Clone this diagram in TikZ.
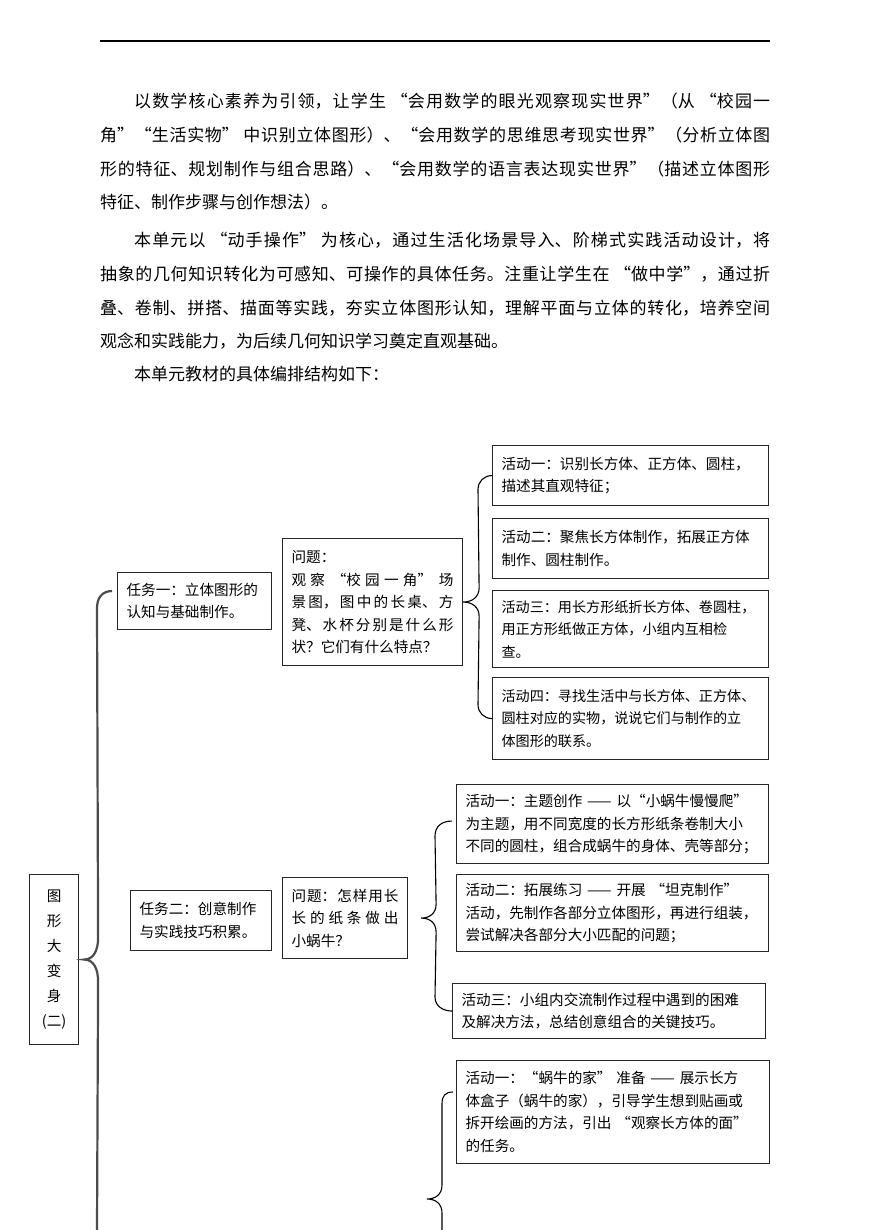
\documentclass[tikz,border=0pt]{standalone}
\usepackage{fontspec}
\setmainfont{Noto Sans CJK SC}
\usetikzlibrary{calc}
\XeTeXlinebreaklocale "zh"
\XeTeXlinebreakskip=0pt plus 2pt
\tikzset{
  box/.style 2 args={draw=black!85,line width=1.1pt,anchor=north west,
    inner xsep=9pt,inner ysep=0pt,align=left,
    text width=#1pt,minimum width=#1pt+18pt,minimum height=#2pt,
    font=\fontsize{14.6pt}{22.5pt}\selectfont},
  small/.style={font=\fontsize{14.1pt}{22.5pt}\selectfont},
  titlebox/.style={draw=black!85,line width=1.1pt,anchor=north west,
    inner sep=0pt,align=center,minimum width=49pt,minimum height=170pt,
    font=\fontsize{14.6pt}{25pt}\selectfont},
  para/.style={anchor=base west,inner sep=0pt,text width=670pt,align=justify,
    font=\fontsize{17pt}{33.6pt}\selectfont},
  brc/.style={draw=black,line width=1.1pt},
  bigbrc/.style={draw=black!70,line width=2.2pt}
}
\begin{document}
\begin{tikzpicture}[x=1pt,y=-1pt]
\useasboundingbox (0,0) rectangle (870,1230);
\draw[line width=1.3pt] (100,41) -- (770,41);

% text above the chart
\node[para] (p1) at (100,108) {\hspace*{2em}以数学核心素养为引领，让学生 “会用数学的眼光观察现实世界”（从 “校园一\linebreak 角”“生活实物” 中识别立体图形）、“会用数学的思维思考现实世界”（分析立体图\linebreak 形的特征、规划制作与组合思路）、“会用数学的语言表达现实世界”（描述立体图形\linebreak 特征、制作步骤与创作想法）。};
\node[para] (p2) at (100,247) {\hspace*{2em}本单元以 “动手操作” 为核心，通过生活化场景导入、阶梯式实践活动设计，将\linebreak 抽象的几何知识转化为可感知、可操作的具体任务。注重让学生在 “做中学”，通过折\linebreak 叠、卷制、拼搭、描面等实践，夯实立体图形认知，理解平面与立体的转化，培养空间\linebreak 观念和实践能力，为后续几何知识学习奠定直观基础。};
\node[para] (p3) at (100,380) {\hspace*{2em}本单元教材的具体编排结构如下：};

% chart
\node[titlebox] (ttl) at (29,874) {图\\形\\大\\变\\身\\(二)};

\node[box={136}{57}] (t1) at (117,572) {任务一：立体图形的\\认知与基础制作。};
\node[box={162}{127},align=justify] (q1) at (282,538) {问题：\\观察 “校园一角” 场\linebreak 景图，图中的长桌、方\linebreak 凳、水杯分别是什么形\linebreak 状？它们有什么特点？};
\node[box={258}{60}] (a1) at (492,445) {活动一：识别长方体、正方体、圆柱，\\描述其直观特征；};
\node[box={258}{60}] (a2) at (492,518) {活动二：聚焦长方体制作，拓展正方体\\制作、圆柱制作。};
\node[box={258}{77},small] (a3) at (492,590) {活动三：用长方形纸折长方体、卷圆柱，\\用正方形纸做正方体，小组内互相检\\查。};
\node[box={258}{82},small] (a4) at (492,677) {活动四：寻找生活中与长方体、正方体、\\圆柱对应的实物，说说它们与制作的立\\体图形的联系。};

\node[box={123}{60}] (t2) at (130,890) {任务二：创意制作\\与实践技巧积累。};
\node[box={107}{81},align=justify] (q2) at (282,877) {问题：怎样用长\linebreak 长的纸条做出\linebreak 小蜗牛？};
\node[box={294}{79}] (b1) at (456,784) {活动一：主题创作 —— 以“小蜗牛慢慢爬”\\为主题，用不同宽度的长方形纸条卷制大小\\不同的圆柱，组合成蜗牛的身体、壳等部分；};
\node[box={294}{77}] (b2) at (456,874) {活动二：拓展练习 —— 开展 “坦克制作”\\活动，先制作各部分立体图形，再进行组装，\\尝试解决各部分大小匹配的问题；};
\node[box={295}{55}] (b3) at (452,983) {活动三：小组内交流制作过程中遇到的困难\\及解决方法，总结创意组合的关键技巧。};

\node[box={295}{103}] (c1) at (456,1060) {活动一：“蜗牛的家” 准备 —— 展示长方\\体盒子（蜗牛的家），引导学生想到贴画或\\拆开绘画的方法，引出 “观察长方体的面”\\的任务。};
\coordinate (c3tip) at (427,1199);
\coordinate (c3end) at (442,1230);
\coordinate (bigend) at (97,1230);

% braces
\draw[bigbrc] ($(t1.west)+(-5,-10)$) .. controls +(-10,0) and +(0,-10) .. ($(t1.west)+(-20,7)$)
  -- ($(ttl.east)+(19,-22)$) .. controls +(0,12) and +(10,0) .. ($(ttl.east)+(5,0)$)
  .. controls +(10,0) and +(0,-12) .. ($(ttl.east)+(19,22)$) -- (bigend);
\draw[brc] (a1.west) .. controls +(-8,0) and +(0,-8) .. ($(a1.west)+(-14,14)$)
  -- ($(q1.east)+(16,-14)$) .. controls +(0,9) and +(9,0) .. (q1.east)
  .. controls +(9,0) and +(0,-9) .. ($(q1.east)+(16,14)$)
  -- ($(a4.west)+(-14,-14)$) .. controls +(0,8) and +(-8,0) .. (a4.west);
\draw[brc] ($(b1.west)+(-4,-3)$) .. controls +(-10,0) and +(0,-10) .. ($(b1.west)+(-21,12)$)
  -- ($(q2.east)+(28,-14)$) .. controls +(0,9) and +(9,0) .. ($(q2.east)+(13,0)$)
  .. controls +(9,0) and +(0,-9) .. ($(q2.east)+(28,14)$)
  -- ($(b3.west)+(-17,-14)$) .. controls +(0,9) and +(-9,0) .. (b3.west);
\draw[brc] ($(c1.north west)+(-3,32)$) .. controls +(-8,0) and +(0,-8) .. ($(c1.north west)+(-14,44)$)
  -- ($(c3tip)+(15,-14)$) .. controls +(0,9) and +(9,0) .. (c3tip)
  .. controls +(9,0) and +(0,-9) .. ($(c3tip)+(15,14)$) -- (c3end);
\end{tikzpicture}
\end{document}
